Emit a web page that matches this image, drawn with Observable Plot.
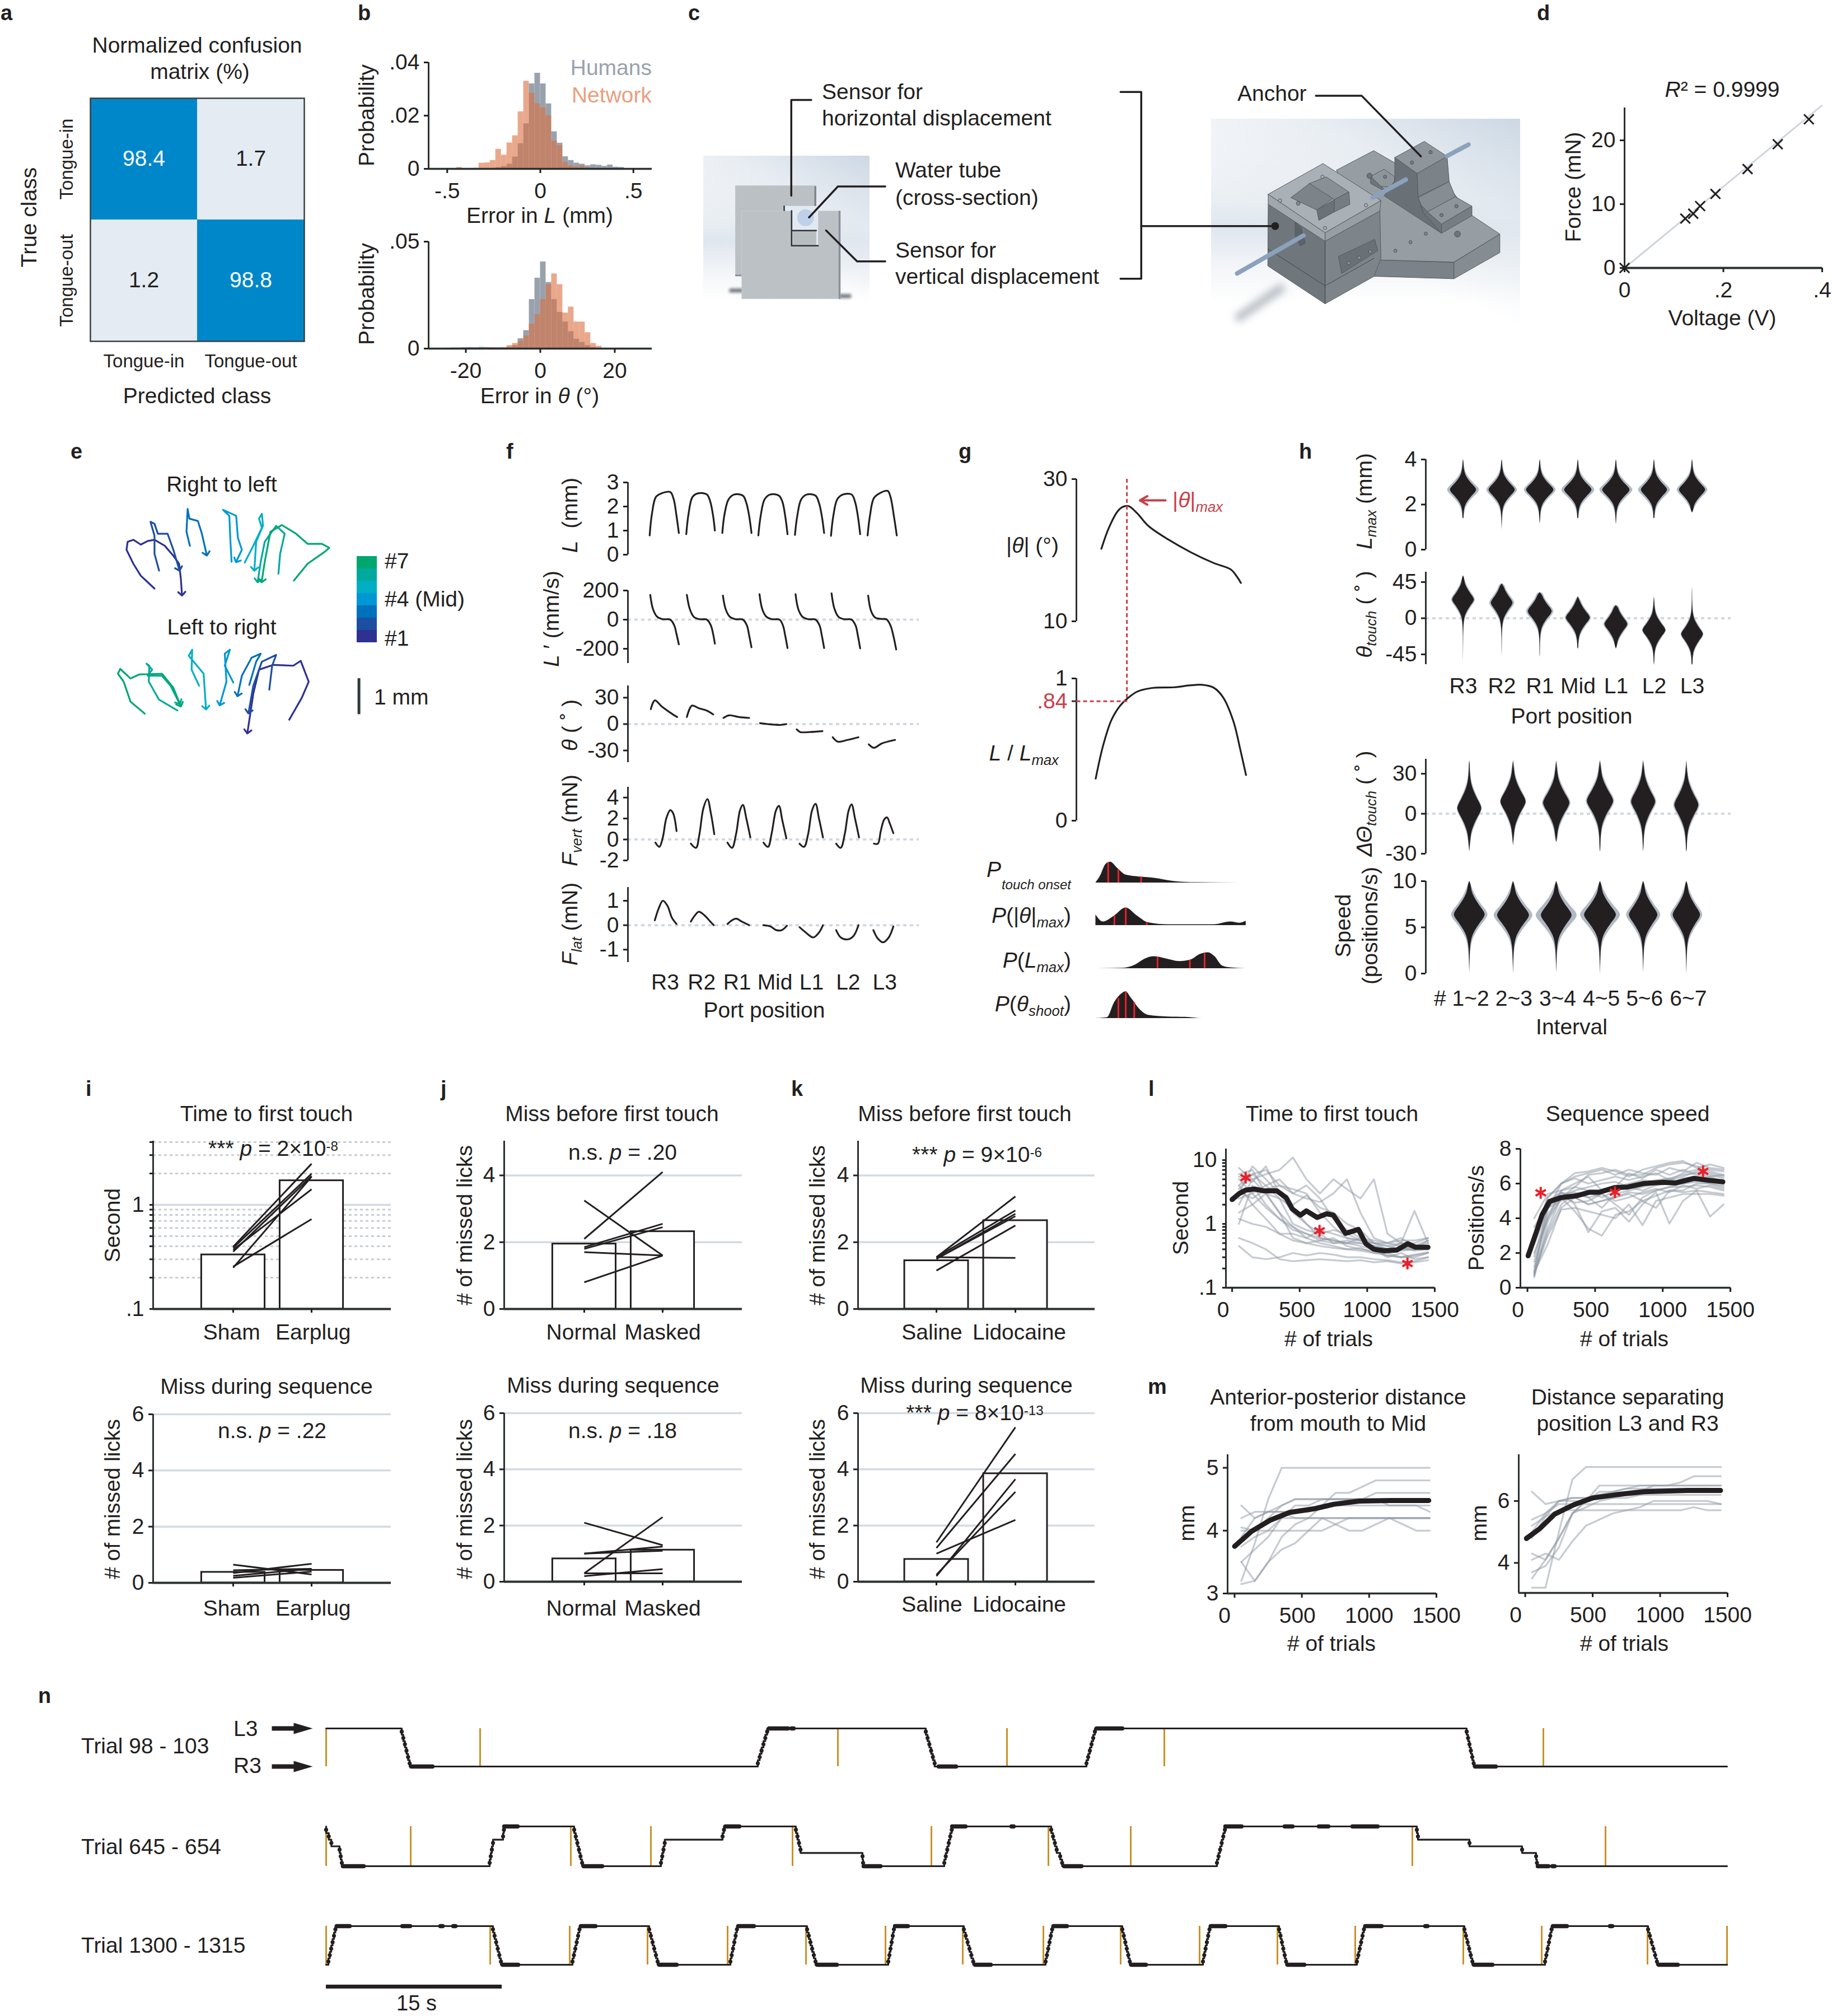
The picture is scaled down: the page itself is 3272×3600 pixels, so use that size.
<!DOCTYPE html>
<html><head><meta charset="utf-8">
<script src="https://cdn.jsdelivr.net/npm/d3@7"></script>
<script src="https://cdn.jsdelivr.net/npm/@observablehq/plot@0.6"></script>
<style>html,body{margin:0;padding:0;background:#fff}#root{position:relative;width:3272px;height:3600px;overflow:hidden;font-family:"Liberation Sans",Arial,sans-serif;color:#231F20}</style>
</head><body><div id="root"></div>
<script>
const ink="#231F20", font='"Liberation Sans",Arial,sans-serif', grid="#D3DAE2", greyLine="#8D97A3", redStar="#E8202A", redDash="#C8404A", ochre="#C8922A";
const root=document.getElementById("root");

/* ---------- a ---------- */
const confusionClasses=["Tongue-in","Tongue-out"];
const confusionValues=[["Tongue-in","Tongue-in",98.4],["Tongue-out","Tongue-in",1.7],["Tongue-in","Tongue-out",1.2],["Tongue-out","Tongue-out",98.8]];
/* ---------- b ---------- */
const lengthBinStart=-0.45, lengthBinWidth=0.03;
const humansLength=[0,0,0,0,0,0,.0002,.0005,.0009,.0018,.0045,.0095,.017,.032,.036,.032,.0245,.014,.0097,.0046,.0032,.0022,.0018,.0012,.0016,.0014,.001,.0015,.0007,.0006,.0002];
const networkLength=[.0006,.0002,.0002,.0003,.0022,.0023,.0032,.0074,.0052,.0098,.0125,.0215,.033,.0285,.0245,.023,.02,.0105,.0087,.0025,.0012,.0008,.0012,.0004,.0003,.0002,.0001,.0001,0,0,0];
const angleBinStart=-27, angleBinWidth=1.5;
const humansAngle=[.0002,.0003,.0004,.0004,.0005,.0006,.0005,.0007,.0006,.0005,.0005,.0004,.0008,.0015,.0047,.0085,.023,.033,.0406,.031,.023,.017,.0125,.008,.0045,.003,.0015,.0006,.0002,.0001,.0001,0,.0001,0,0,0];
const networkAngle=[0,0,0,0,.0001,.0001,.0002,.0002,.0004,.0005,.0004,.0006,.0015,.0025,.0035,.006,.0115,.016,.023,.03,.035,.03,.0167,.0195,.0125,.0125,.0075,.0025,.0012,.0003,.0002,.0002,.0003,.0002,.0001,.0001];
/* ---------- d ---------- */
const voltage=[0,.123,.139,.153,.184,.249,.31,.373];
const force=[0,7.74,8.5,9.7,11.6,15.5,19.4,23.3];
/* ---------- e ---------- */
const portColors=["#2E3192","#1C4FA1","#0071BC","#0097D7","#00AEC5","#00A99D","#00A76E"];
const rightToLeft=[
[[172,407],[148,375],[135,345],[123,310],[125,290],[135,285],[148,297],[160,288],[172,285],[190,300],[205,325],[215,345],[218,380],[220,420]],
[[180,362],[172,320],[172,275],[165,240],[172,245],[178,270],[195,270],[205,310],[215,358]],
[[234,300],[228,265],[230,208],[233,232],[248,238],[255,270],[263,320]],
[[307,340],[305,290],[303,225],[292,210],[315,225],[318,280],[325,310],[316,337]],
[[330,342],[345,300],[360,255],[355,232],[360,220],[362,250],[350,290],[347,358]],
[[389,370],[392,320],[400,270],[385,250],[365,290],[358,340],[353,387]],
[[416,387],[440,345],[470,315],[478,305],[465,295],[440,295],[420,270],[395,248],[375,265],[365,340],[360,387]]];
const leftToRight=[
[[408,735],[430,680],[442,640],[428,588],[415,600],[380,598],[355,610],[345,670],[335,765]],
[[373,660],[378,600],[385,573],[360,590],[345,650],[337,715]],
[[338,648],[350,590],[358,570],[342,580],[325,625],[318,672]],
[[310,642],[295,600],[304,560],[295,570],[298,640],[287,695]],
[[250,650],[237,610],[238,560],[232,575],[258,620],[262,705]],
[[212,712],[180,685],[162,640],[163,600],[158,595],[168,610],[160,625],[185,625],[200,650],[215,692]],
[[155,720],[130,690],[118,640],[108,620],[112,608],[130,632],[145,622],[185,620],[205,655],[217,698]]];
/* ---------- f ---------- */
const portNames=["R3","R2","R1","Mid","L1","L2","L3"];
const fTickX=[1066,1130,1192,1258,1322,1386,1450];
const tongueLength=[
[[1039,.8],[1043,1.7],[1050,2.4],[1060,2.55],[1075,2.6],[1081,2.3],[1086,1.6],[1090,.9]],
[[1103,.85],[1107,1.7],[1114,2.4],[1124,2.55],[1139,2.5],[1145,2.2],[1150,1.6],[1153,1]],
[[1166,.9],[1170,1.7],[1177,2.3],[1187,2.5],[1202,2.45],[1208,2.15],[1213,1.6],[1217,.9]],
[[1229,.8],[1233,1.6],[1240,2.3],[1250,2.5],[1265,2.45],[1271,2.2],[1276,1.6],[1280,.85]],
[[1293,.82],[1297,1.6],[1304,2.3],[1314,2.5],[1329,2.45],[1335,2.15],[1340,1.6],[1344,.9]],
[[1356,.78],[1360,1.6],[1367,2.3],[1377,2.5],[1392,2.5],[1398,2.2],[1403,1.6],[1407,.85]],
[[1420,.8],[1424,1.6],[1431,2.35],[1441,2.55],[1455,2.65],[1460,2.4],[1466,1.6],[1471,.8]]];
const tongueVelocity=[
[[1040,170],[1045,70],[1052,20],[1062,3],[1075,0],[1082,-40],[1086,-100],[1090,-170]],
[[1104,170],[1109,75],[1116,20],[1126,3],[1139,0],[1146,-40],[1150,-100],[1153,-165]],
[[1167,165],[1172,70],[1179,20],[1189,3],[1202,0],[1209,-40],[1213,-110],[1217,-190]],
[[1231,175],[1236,70],[1243,20],[1253,3],[1266,0],[1272,-40],[1276,-110],[1280,-195]],
[[1294,175],[1299,70],[1306,20],[1316,3],[1329,0],[1336,-40],[1340,-110],[1344,-195]],
[[1357,180],[1362,75],[1369,20],[1379,3],[1392,0],[1399,-40],[1403,-110],[1407,-197]],
[[1421,165],[1426,60],[1433,15],[1443,5],[1453,2],[1460,-40],[1465,-110],[1470,-205]]];
const tongueAngle=[
[[1041,17],[1048,27],[1060,20],[1075,13],[1087,8]],
[[1104,8],[1113,21],[1125,18],[1140,15],[1150,11]],
[[1168,7],[1178,10],[1195,8],[1213,7]],
[[1232,1],[1245,0],[1265,-1],[1278,0]],
[[1296,-6],[1302,-9],[1320,-9],[1341,-8]],
[[1359,-15],[1368,-20],[1385,-18],[1404,-15]],
[[1422,-23],[1431,-27],[1445,-22],[1468,-18]]];
const forceVertical=[
[[1049,-.3],[1056,-.7],[1062,.2],[1068,2],[1075,2.8],[1080,2.5],[1086,.8]],
[[1111,-.4],[1120,-.8],[1126,.5],[1133,3],[1140,3.85],[1146,2.5],[1152,.5]],
[[1175,-.3],[1183,-.8],[1190,.5],[1197,2.8],[1202,3.3],[1208,2],[1215,.2]],
[[1238,-.3],[1246,-.7],[1252,.5],[1260,2.8],[1265,3.2],[1271,1.8],[1278,.1]],
[[1301,-.4],[1309,-.7],[1316,.5],[1323,2.8],[1329,3.4],[1335,2],[1342,.2]],
[[1365,-.4],[1373,-.8],[1380,.5],[1387,2.8],[1392,3.35],[1398,2],[1405,.2]],
[[1431,-.4],[1438,-.4],[1443,.8],[1449,1.9],[1454,2.1],[1459,1.5],[1465,.6]]];
const forceLateral=[
[[1048,.2],[1055,.7],[1062,1],[1070,.8],[1078,.3],[1086,.05]],
[[1111,.15],[1118,.4],[1125,.55],[1135,.4],[1145,.15],[1151,0]],
[[1175,.05],[1183,.2],[1190,.27],[1200,.15],[1213,0]],
[[1238,0],[1250,-.05],[1260,-.2],[1270,-.2],[1279,-.02]],
[[1301,-.08],[1312,-.3],[1325,-.5],[1335,-.3],[1342,0]],
[[1365,-.2],[1373,-.5],[1385,-.58],[1395,-.45],[1404,0]],
[[1430,-.2],[1438,-.55],[1447,-.7],[1457,-.5],[1465,-.05]]];
/* ---------- g ---------- */
const angleTrace=[[282,20.2],[295,23.1],[310,25.4],[320,26.1],[330,26.2],[345,25.2],[365,23.4],[400,21.5],[440,19.7],[480,18.2],[510,17.3],[520,16.4],[528,15.4]];
const lengthTrace=[[272,.296],[285,.527],[300,.71],[315,.808],[327,.856],[345,.907],[370,.932],[410,.938],[440,.952],[460,.955],[480,.935],[497,.865],[515,.696],[527,.499],[537,.321]];
const densityTouch=[[272,0],[280,17],[290,47],[298,52],[310,37],[325,20],[350,15],[375,12],[410,4],[450,1],[528,0]];
const densityAngle=[[272,27],[285,9],[305,24],[325,44],[345,24],[365,7],[400,2],[480,2],[510,9],[525,6],[537,11]];
const densityLength=[[272,0],[320,1],[340,8],[360,25],[375,30],[395,25],[420,18],[440,22],[455,35],[470,40],[482,30],[495,7],[510,2],[537,0]];
const densityShoot=[[272,0],[292,2],[305,40],[318,62],[325,67],[335,50],[350,22],[365,8],[400,4],[430,3],[460,0],[537,0]];
const redTouch=[[294,50],[312,33],[352,14]], redAngle=[[305,24],[325,44],[362,8]], redLength=[[381,28],[438,21],[464,38]], redShoot=[[312,50],[325,67],[340,40]];
/* ---------- h ---------- */
const hPortX=[919,987,1054,1121,1188,1255,1322], hIntX=[930,1007,1083,1160,1236,1312];
const intervalNames=["# 1~2","2~3","3~4","4~5","5~6","6~7"], intervalTickX=[916,1008,1085,1162,1238,1315];
const lmaxCenter=[2.65,2.65,2.65,2.65,2.65,2.65,2.65], lmaxTop=[4,4,4,4,4,4,4], lmaxBottom=[1.38,.88,1.15,1.38,1.12,1.38,1.63];
const lmaxInner=[23,23,24,24,24,23,23], lmaxOuter=[28,27,28,29,29,28,27];
const thetaCenter=[23,19,8.5,.5,-7.5,-15,-20], thetaTop=[53,43,32,27,16,27,39], thetaBottom=[-53,-48,-48,-38,-38,-58,-58];
const thetaInner=[19,19,21,21,20,20,19], thetaOuter=[21,22,24,23,22,21,20];
const deltaCenter=[4,9,8,9.5,9,6.5], deltaTop=[40,40,40,40,40,40], deltaBottom=[-28.5,-24,-21.6,-28.5,-28.5,-28.5];
const deltaInner=[21,22,23,23,21,21], deltaOuter=[22,23,25,25,23,23];
const speedCenter=[6.38,6.3,6.3,6.35,6.35,6.35], speedTop=[10,10,10,10,10,10], speedBottom=[0,0,0,0,0,0];
const speedInner=[27,28,27,28,25,24], speedOuter=[32,34,36,35,30,28];
const violinProfile=[[0,1],[6,.92],[16,.66],[28,.38],[40,.18],[55,.07],[75,.025],[110,.008]];
/* ---------- i j k ---------- */
const logMinor=[.2,.3,.4,.5,.6,.7,.8,.9,2,3,4];
const iTimeBars=[.332,1.71], iTimePairs=[[.396,2.48],[.386,1.99],[.355,1.89],[.37,1.41],[.249,1.86],[.255,.73]];
const iMissBars=[.38,.45], iMissPairs=[[.65,.3],[.45,.5],[.18,.4],[.35,.68],[.25,.5]];
const jFirstBars=[1.95,2.32], jFirstPairs=[[2.1,4.1],[1.85,2.55],[1.8,2.45],[3.25,1.6],[1.7,1.6],[.8,1.6]];
const jSeqBars=[.82,1.13], jSeqPairs=[[2.1,1.3],[1,1.25],[1,1.1],[.3,2.3],[.2,.45],[.3,.3]];
const kFirstBars=[1.45,2.65], kFirstPairs=[[1.55,3.37],[1.55,2.95],[1.5,2.85],[1.15,2.5],[1.5,2.78],[1.55,1.53]];
const kSeqBars=[.8,3.85], kSeqPairs=[[1.4,5.5],[1.2,4.55],[1,2.2],[.2,3.65],[.25,3.2]];
/* ---------- l m ---------- */
const trialGrid=[50,150,250,350,450,550,650,750,850,950,1050,1150,1250,1350,1450];
const timeAnimals=[
[7.5,5,6,7,11,5,3,5,3.5,2.5,5,.7,.5,.5,.6],[4,6,7,4,3,2.5,2.2,3,5,1.5,.6,.5,.45,.4,.55],[3,8,5,3,2,2.8,1.8,1.5,1,.8,.5,.45,.5,1.6,.5],
[2,5,3,2.5,1,.8,.7,.8,.7,.55,.45,.35,.4,.4,.45],[1,4,2,1.2,.8,.7,.6,.55,.5,.45,.4,.3,.35,.28,.3],[1.5,2,3,1.5,.6,.5,.55,.6,.45,.4,.38,.32,.3,.3,.35],
[.6,.5,.4,.28,.26,.27,.28,.27,.26,.27,.25,.26,.24,.25,.27],[.45,.3,.28,.3,.35,.32,.35,.33,.3,.3,.28,.27,.25,.26,.3],[5,3,4,2.5,1.8,1,.7,.5,.5,.6,.5,.4,.5,.4,.4],
[3.5,6,4,5,3,4,2.5,1.2,.8,.6,.55,.5,.55,.55,.6],[2.5,3,1.8,1.2,.9,.6,.8,.7,.6,.55,.5,.5,.6,.45,.5],[4,2,1.2,.7,.7,.6,.5,.45,.4,.42,.35,.35,.3,.32,.35],
[6,7,3,1.5,.9,.7,.55,.5,.55,.5,.45,.4,.42,.38,.4],[3.2,2.5,3.5,4,3.5,3,1.5,.9,.6,.55,.5,.45,.4,.45,.55],[1.2,1,.9,.7,.55,.5,.45,.42,.4,.38,.35,.32,.3,.33,.36],[5.5,4.5,8,3,1.5,1,.6,.55,.5,.5,.45,.4,.38,.4,.45]];
const timeMean=[[0,2.41],[50,2.96],[100,3.38],[165,3.52],[235,3.29],[330,3.3],[400,2.58],[445,1.72],[505,1.37],[550,1.6],[630,1.26],[700,1.44],[750,1.37],[840,.71],[935,.82],[990,.49],[1050,.4],[1125,.38],[1220,.39],[1300,.49],[1360,.43],[1450,.43]];
const timeStars=[[100,5.3],[647,.78],[1298,.24]];
const speedAnimals=[
[.6,3.8,5.2,5.8,6.5,6.6,6.8,6.5,6.5,6.9,7.1,7.2,7,6.8,6.7],[1,4.5,6,6.4,6.6,6.8,6.5,6.8,6.6,6.5,6.9,6.7,7.2,6.9,6.8],[.7,5,5.5,4.8,3.2,4.4,4.6,3.8,4.8,5.5,3.7,5,5.6,4.1,4.8],
[.8,3,4.5,4.6,4.4,4.2,4,4.8,3.6,5,5.2,5.4,5.4,5.4,5.3],[2,4,5.2,4.4,3.4,3,4.2,4.4,5,5.3,5.6,5.5,5.6,5.5,5.4],[3.5,4.8,5.5,5.2,4.8,5,5.2,5.5,5.4,5.6,5.8,5.8,5.9,5.8,5.6],
[1.5,4,5.6,5.8,5.6,5.6,5.8,6,6.2,6.1,6.3,6.5,6.6,6.5,6.3],[.9,2.5,4.6,5.2,4.8,5,5.2,5.4,5,4.6,5.6,5.6,6,6,5.8],[3,5.2,6,6.3,6,6.2,6.4,6.2,6.4,6.6,6.2,6.4,6.7,6.6,6.4],
[1.2,4.2,5.4,5.5,5.2,5.4,4.8,4.2,5.2,5.6,5.8,6,6.2,6.4,6.1],[.7,3.4,5.2,5.6,5.8,6,6.1,5.8,6,6.2,6.3,6,6.1,6,5.9],[2.5,4.6,5,5.4,5.2,4.6,5.4,5.6,5.8,6,6.2,6.6,6.8,6.7,6.5],
[2.8,5.2,6,6.6,6.7,6.9,6.7,6.4,6.8,7,7.2,7.3,6.9,7.1,6.9],[1.8,4.6,5.3,4.9,5,5.4,5,5.2,5.5,5.7,5.5,5.9,5.7,5.9,5.7],[.9,3.2,4.8,5.4,5.5,5.2,5.6,5.8,5.6,5.9,6,6.3,6.4,6.2,6],[4,5.4,5.6,6,6.4,5.6,5.8,6.6,6.3,6.8,6.5,6.8,6.5,6.4,6.5]];
const speedMean=[[5,1.84],[61,3.1],[108,4.2],[164,4.97],[248,5.19],[366,5.3],[459,5.5],[530,5.5],[647,5.77],[741,5.8],[858,6],[1000,6.07],[1092,6.03],[1233,6.3],[1327,6.2],[1444,6.1]];
const speedStars=[[98,5.47],[647,5.5],[1298,6.7]];
const apAnimals=[
[3.2,3.8,4.5,5,5,5,5,5,5,5,5,5,5,5,5],[3.5,3.2,3.5,3.9,4.1,4.2,4.4,4.6,4.6,4.7,4.8,4.8,4.8,4.8,4.8],[4.4,4.2,4.3,4.4,4.5,4.5,4.5,4.5,4.5,4.5,4.6,4.6,4.6,4.6,4.6],
[4.2,4.3,4.3,4.3,4.3,4.3,4.4,4.4,4.4,4.4,4.4,4.4,4.4,4.4,4.4],[4,4,4,4,4,4,4,4.1,4.2,4.2,4.2,4.2,4.1,4,4],[3.15,3.2,3.5,3.7,3.8,4,4.2,4.2,4.2,4.2,4.2,4.2,4.2,4.2,4.2],
[3.75,3.9,4,4.2,4.2,4.2,4.2,4.2,4.2,4.2,4.2,4.2,4.2,4.2,4.2],[4.05,4,4.2,4.4,4.5,4.5,4.5,4.5,4.5,4.5,4.5,4.5,4.5,4.5,4.5],[3.5,3.7,3.9,4.2,4.4,4.4,4.5,4.5,4.5,4.5,4.5,4.4,4.4,4.4,4.3],[3.9,4.2,4.3,4.3,4.2,4.2,4.2,4.1,4,4,4.1,4.2,4.2,4.2,4.2]];
const apMean=[[0,3.75],[127,3.99],[268,4.17],[409,4.29],[597,4.35],[738,4.42],[926,4.47],[1161,4.48],[1443,4.48]];
const spanAnimals=[
[3.2,3.2,5,6.7,7.1,7.1,7.1,7.1,7.1,7.1,7.1,7.1,7.1,7.1,7.1],[3.5,4.1,4.8,5.6,5.8,6,6.1,6.2,6.3,6.5,6.5,6.6,6.8,6.8,6.8],[6.3,5.9,6,6.1,6.1,6.2,6.2,6.2,6.2,6.3,6.3,6.3,6.3,6.3,6.3],
[5.4,5.6,5.9,5.9,5.9,5.9,5.9,5.9,5.9,5.9,5.9,5.9,5.9,5.9,5.9],[5.2,5.5,5.7,5.7,5.7,5.7,5.7,5.7,5.7,5.7,5.7,5.7,5.8,5.7,5.7],[4.3,4.1,4.8,5.6,6,6.3,6.3,6.4,6.5,6.5,6.5,6.5,6.5,6.5,6.5],
[4.8,5.5,6,6.1,6.1,6.2,6.3,6.4,6.4,6.4,6.4,6.4,6.4,6.4,6.3],[4.1,4.3,4.1,4.7,5.2,5.4,5.6,5.7,5.8,6,6,6,6,6,5.9],[5,5.6,6,6,6,6.1,6.1,6.1,6.2,6.2,6.2,6.2,6.2,6.2,6.2],[3.7,3.9,4.5,5.6,6,6.5,6.5,6.5,6.5,6.5,6.5,6.5,6.5,6.5,6.5]];
const spanMean=[[9,4.79],[103,5.09],[220,5.58],[361,5.88],[502,6.1],[666,6.2],[877,6.3],[1205,6.34],[1448,6.34]];
/* ---------- n : time in video frames (about 21 per second) ---------- */
const traceStart=582, traceEnd=3084, framesFor15s=314;
const row1Moves=[[717,734,6,0],[1353,1373,0,6],[1653,1672,6,0],[1940,1958,0,6],[2619,2634,6,0]];
const row1Thick=[[734,772,0],[1373,1407,6],[1413,1417,6],[1676,1707,0],[1958,2004,6],[2634,2671,0]];
const row1Reward=[582,857,1496,1798,2079,2756];
const row2Moves=[[582,596,6,3],[606,612,3,0],[874,882,0,4],[898,901,4,6],[1025,1042,6,0],[1180,1189,0,4],[1290,1295,4,6],[1421,1432,6,2],[1540,1542,2,0],[1686,1702,0,6],[1877,1890,6,2],[1893,1900,2,0],[2173,2190,0,6],[2530,2534,6,4],[2624,2625,4,3],[2718,2719,3,2],[2743,2746,2,0]];
const row2Thick=[[612,649,0],[900,924,6],[1042,1075,0],[1295,1320,6],[1542,1572,0],[1700,1724,6],[1806,1810,6],[1900,1931,0],[2188,2217,6],[2294,2308,6],[2355,2366,6],[2368,2372,6],[2415,2460,6],[2746,2765,0],[2772,2776,0]];
const row2Reward=[582,733,1019,1162,1415,1663,1872,2019,2522,2867];
const row3Moves=[[586,601,0,6],[880,897,6,0],[1022,1037,0,6],[1159,1177,6,0],[1304,1318,0,6],[1441,1459,6,0],[1586,1598,0,6],[1721,1741,6,0],[1867,1881,0,6],[2004,2020,6,0],[2148,2162,0,6],[2284,2299,6,0],[2423,2438,0,6],[2615,2632,6,0],[2759,2773,0,6],[2943,2962,6,0]];
const row3Thick=[[601,624,6],[718,732,6],[786,790,6],[809,813,6],[897,925,0],[1037,1063,6],[1177,1208,0],[1318,1346,6],[1459,1494,0],[1598,1621,6],[1741,1769,0],[1881,1905,6],[2020,2046,0],[2162,2188,6],[2299,2329,0],[2438,2467,6],[2545,2549,6],[2632,2665,0],[2773,2798,6],[2875,2879,6],[2962,2996,0]];
const row3Reward=[582,875,1017,1156,1299,1439,1581,1719,1863,2001,2142,2281,2420,2613,2753,2942,3084];
/* ---------- c : illustration outlines ---------- */
const sidePolys=[
["#BBC0C5",[[188,182],[622,182],[622,292],[445,292],[445,318],[222,318],[222,668],[188,668]]],
["#7C8388",[[612,186],[622,186],[622,292],[612,292]]],
["#858C93",[[188,660],[222,660],[222,668],[188,668]]],
["#E3E9F1",[[450,295],[622,295],[632,318],[632,420],[495,420],[495,318],[450,318]]],
["#BCC1C6",[[222,318],[490,318],[490,505],[632,505],[632,318],[752,318],[752,790],[222,790]]],
["#8A9198",[[742,318],[752,318],[752,790],[742,790]]],
["#B8BDC2",[[495,424],[622,424],[622,500],[495,500]]]];
const sideInk=[[[490,318],[490,505],[632,505]],[[495,424],[622,424]],[[450,293],[450,316]]];
const sideShadows=[[[165,745],[222,745]],[[752,775],[800,775]]];
const cadFaces=[
["#969DA3",[[640,335],[820,232],[920,295],[1180,420],[1290,570],[1430,672],[1208,820],[822,808]]],
["#7B8288",[[822,808],[1208,822],[1208,908],[822,895]]],
["#858C92",[[1208,822],[1430,672],[1430,770],[1208,908]]],
["#6E757A",[[805,368],[855,420],[905,465],[805,405]]],
["#8E959B",[[805,368],[870,330],[922,370],[915,425],[855,420]]],
["#6A7176",[[922,268],[1030,352],[1035,480],[1060,560],[1148,668],[870,470],[922,390]]],
["#7B8288",[[1030,352],[1175,262],[1185,395],[1035,475]]],
["#8E959B",[[922,268],[1065,183],[1175,262],[1030,352]]],
["#868D93",[[1035,480],[1185,395],[1215,475],[1080,555],[1050,520]]],
["#6E757A",[[1050,520],[1080,555],[1148,620],[1148,668],[1060,560]]],
["#8E959B",[[1080,555],[1215,475],[1295,525],[1148,620]]],
["#767D83",[[1148,620],[1295,525],[1295,575],[1148,668]]],
["#70777C",[[310,515],[585,710],[585,1040],[308,840]]],
["#7E858A",[[585,710],[850,550],[855,800],[822,895],[585,1040]]],
["#A0A7AD",[[310,462],[585,665],[585,710],[310,515]]],
["#979EA4",[[585,665],[855,495],[850,550],[585,710]]],
["#A9B0B6",[[310,462],[575,300],[855,495],[585,665]]],
["#7D8489",[[420,480],[510,405],[630,480],[545,545]]],
["#889096",[[510,405],[590,370],[700,450],[630,490]]],
["#6B7277",[[545,545],[630,490],[630,555],[555,600]]],
["#757C82",[[630,490],[700,450],[705,515],[630,555]]],
["#5C6368",[[440,610],[470,640],[490,720],[465,735],[440,680]]],
["#6A7176",[[650,790],[825,700],[840,760],[665,880]]]];
const cadSeams=[[[308,750],[585,945],[822,800]],[[585,710],[585,1040]]];
const cadHoles=[[800,365,15,"#6E7479"],[1225,672,19,"#6E7479"],[925,760,5.5,"#7F868C"],[998,715,5.5,"#7F868C"],[1072,670,5.5,"#7F868C"],[1005,295,6,"#757C82"],[1095,240,6,"#757C82"],[875,370,6,"#757C82"],[1220,525,6,"#757C82"],[1148,572,6,"#757C82"],[700,825,6,"#8A9097"],[750,797,6,"#8A9097"],[803,765,6,"#8A9097"],[367,495,6,"#A9B0B6"],[572,370,6,"#A9B0B6"],[783,520,6,"#A9B0B6"],[585,640,6,"#A9B0B6"],[455,510,8,"#838A90"]];
const tubeSegments=[[[160,880],[480,680]],[[815,480],[975,385]],[[1175,260],[1278,200]]];
const cadShadow=[[170,1110],[370,960]];
const leaderLines=[[[188,367],[161,367],[161,720]],[[288,686],[224,686],[185,800]],[[288,962],[250,962],[208,848]],[[606,338],[634,338],[634,1026],[606,1026]],[[634,832],[815,832]],[[870,352],[932,352],[1012,575]]];

/* ---------- helpers ---------- */
function P(f,x,y,marks){
  const ml=190,mr=30,mt=40,mb=90;
  const plot=Plot.plot({width:Math.round(f.x1-f.x0)+ml+mr,height:Math.round(f.y1-f.y0)+mt+mb,marginLeft:ml,marginRight:mr,marginTop:mt,marginBottom:mb,
    x:{axis:null,...x},y:{axis:null,...y},
    style:{fontFamily:font,fontSize:"39px",color:ink,background:"transparent",overflow:"visible"},marks});
  plot.style.position="absolute";plot.style.left=(f.x0-ml)+"px";plot.style.top=(f.y0-mt)+"px";
  root.appendChild(plot);return plot;
}
function T(html,x,y,o={}){
  const {a="start",rot=0,size=39,color=ink,weight="normal"}=o;
  const d=document.createElement("div");
  d.style.cssText=`position:absolute;left:${x}px;top:${y}px;width:0;height:0;transform:rotate(${rot}deg);transform-origin:0 0`;
  const s=document.createElement("span");
  const tx=a==="start"?"0":a==="middle"?"-50%":"-100%";
  s.style.cssText=`position:absolute;left:0;top:${-0.8465*size}px;white-space:nowrap;line-height:1;font-size:${size}px;font-weight:${weight};color:${color};transform:translateX(${tx})`;
  s.innerHTML=html;d.appendChild(s);root.appendChild(d);
}
const sub=s=>`<span style="position:relative;top:.32em;font-size:.66em;font-style:italic">${s}</span>`;
const sup=s=>`<span style="position:relative;top:-.38em;font-size:.62em">${s}</span>`;
const fmt=d=>String(d).replace(/^(-?)0\./,"$1.");
const yAxis=(ticks,o={})=>Plot.axisY({ticks,tickFormat:fmt,tickSize:8,tickPadding:8,strokeWidth:3,label:null,...o});
const left=(v,o={})=>Plot.ruleX([v],{stroke:"#2B3030",strokeWidth:3,...o});
const base=(v,o={})=>Plot.ruleY([v],{stroke:"#2B3030",strokeWidth:4,...o});
const flat=rows=>rows.flatMap((r,i)=>r.map(([x,y])=>({x,y,k:i})));
const zeroDots=()=>Plot.ruleY([0],{stroke:"#D3D8DF",strokeWidth:4,strokeDasharray:"6,6"});
const blur=px=>(i,s,v,d,c,next)=>{const g=next(i,s,v,d,c);g.style.filter=`blur(${px}px)`;return g;};
const xyPath=(r,o)=>Plot.line(r,{x:d=>d[0],y:d=>d[1],...o});
const polyMark=(pts,fill,o={})=>Plot.line([...pts,pts[0]],{x:d=>d[0],y:d=>d[1],fill,stroke:"none",...o});

function bg(x,y,w,h,css){const d=document.createElement("div");d.style.cssText=`position:absolute;left:${x}px;top:${y}px;width:${w}px;height:${h}px;background:${css}`;root.appendChild(d);}
const photoBg="linear-gradient(205deg,rgba(205,216,228,1) 0%,rgba(225,232,239,.7) 28%,rgba(255,255,255,0) 58%),linear-gradient(180deg,#FCFCFD 0%,#E9EEF3 38%,#DFE6EE 50%,#F3F5F8 68%,#FFFFFF 85%)";
bg(1256,278,297,305,photoBg);
bg(2163,212,552,388,photoBg);

/* a */
P({x0:161,x1:543,y0:175,y1:609},{type:"band",domain:confusionClasses,padding:0},{type:"band",domain:confusionClasses,padding:0},[
  Plot.cell(confusionValues,{x:d=>d[0],y:d=>d[1],fill:d=>d[2]>50?"#0087CA":"#E4EBF2"}),
  Plot.frame({stroke:"#3A4040",strokeWidth:2.5}),
  Plot.text(confusionValues,{x:d=>d[0],y:d=>d[1],text:d=>String(d[2]),fill:d=>d[2]>50?"#FFFFFF":ink}),
  Plot.axisX({tickSize:0,tickPadding:23,label:null,fontSize:33}),
  Plot.axisY({tickSize:0,tickPadding:32,tickRotate:-90,label:null,textAnchor:"middle",fontSize:33})
]);
T("Normalized confusion",352,94,{a:"middle"});T("matrix (%)",357,141,{a:"middle"});
T("Predicted class",352,720,{a:"middle"});T("True class",65,388,{a:"middle",rot:-90});

/* b */
const histRows=(vals,start,w)=>vals.map((v,i)=>({a:start+i*w,b:start+(i+1)*w,v}));
const histMarks=(h,n,s,w)=>[
  Plot.rect(histRows(h,s,w),{x1:"a",x2:"b",y1:0,y2:"v",fill:"#99A2AC"}),
  Plot.rect(histRows(n,s,w),{x1:"a",x2:"b",y1:0,y2:"v",fill:"#DA6E3F",fillOpacity:.6})];
P({x0:765,x1:1164,y0:110.5,y1:300.5},{domain:[-.6,.6]},{domain:[0,.04]},[
  ...histMarks(humansLength,networkLength,lengthBinStart,lengthBinWidth),
  left(-.6),base(0,{strokeWidth:3.5}),yAxis([0,.02,.04]),
  Plot.axisX({ticks:[-.5,0,.5],tickFormat:fmt,tickSize:8,tickPadding:17,strokeWidth:3,label:null})
]);
P({x0:765,x1:1164,y0:430.5,y1:621.5},{domain:[-30,30]},{domain:[0,.05]},[
  ...histMarks(humansAngle,networkAngle,angleBinStart,angleBinWidth),
  left(-30),base(0,{strokeWidth:3.5}),yAxis([0,.05]),
  Plot.axisX({ticks:[-20,0,20],tickFormat:fmt,tickSize:8,tickPadding:17,strokeWidth:3,label:null})
]);
T("Humans",1164,134,{a:"end",color:"#99A2AC"});T("Network",1164,183,{a:"end",color:"#E8A080"});
T("Probability",668,206,{a:"middle",rot:-90});T("Probability",668,525,{a:"middle",rot:-90});
T("Error in <i>L</i> (mm)",964,398,{a:"middle"});T("Error in <i>θ</i> (°)",964,720,{a:"middle"});

/* c : left sensor view */
P({x0:1250,x1:1570,y0:270,y1:590},{domain:[0,960]},{domain:[0,960],reverse:true},[
  ...sideShadows.map(s=>xyPath(s,{stroke:"#6F767C",strokeWidth:7,render:blur(2.5)})),
  ...sidePolys.map(([c,p])=>polyMark(p,c)),
  Plot.dot([[565,355]],{x:d=>d[0],y:d=>d[1],r:15,fill:"#BFD1E8"}),
  ...sideInk.map(l=>xyPath(l,{stroke:"#2A3033",strokeWidth:2.5}))
]);
/* c : right assembly */
P({x0:2150,x1:2730,y0:190,y1:610},{domain:[0,1570]},{domain:[0,1241],reverse:true},[
  xyPath(cadShadow,{stroke:"#8F98A2",strokeWidth:16,strokeOpacity:.6,render:blur(7)}),
  ...cadFaces.map(([c,p])=>polyMark(p,c,{stroke:"#545A5F",strokeWidth:1})),
  ...cadSeams.map(s=>xyPath(s,{stroke:"#3F4549",strokeWidth:1})),
  Plot.dot(cadHoles,{x:d=>d[0],y:d=>d[1],r:d=>d[2],fill:d=>d[3],stroke:"#4C5256",strokeWidth:1}),
  ...tubeSegments.map(s=>xyPath(s,{stroke:"#8BA2BC",strokeWidth:8}))
]);
/* c : leader lines */
P({x0:1200,x1:3272,y0:0,y1:760},{domain:[0,1568]},{domain:[0,1568],reverse:true},[
  ...leaderLines.map(l=>xyPath(l,{stroke:ink,strokeWidth:3.5})),
  Plot.dot([[815,832]],{x:d=>d[0],y:d=>d[1],r:7,fill:ink})
]);
T("Sensor for",1468,177);T("horizontal displacement",1468,224);
T("Water tube",1599,317);T("(cross-section)",1599,366);
T("Sensor for",1599,460);T("vertical displacement",1599,507);T("Anchor",2210,180);

/* d */
const dRows=voltage.map((v,i)=>({v,f:force[i]}));
P({x0:2901,x1:3254,y0:191.5,y1:477.5},{domain:[0,.4]},{domain:[0,25.1]},[
  Plot.link([0],{x1:0,y1:0,x2:.4,y2:25.5,stroke:"#CFD5DC",strokeWidth:3}),
  left(0),base(0,{strokeWidth:4}),
  Plot.dot(dRows,{x:"v",y:"f",symbol:"times",r:8,stroke:ink,strokeWidth:3}),
  yAxis([0,10,20]),
  Plot.axisX({ticks:[0,.2,.4],tickFormat:fmt,tickSize:8,tickPadding:17,strokeWidth:3,label:null})
]);
T("<i>R</i>² = 0.9999",3076,173,{a:"middle"});T("Voltage (V)",3076,581,{a:"middle"});T("Force (mN)",2823,334,{a:"middle",rot:-90});

/* e */
const lineArrow=rows=>rows.map((r,i)=>xyPath(r,{stroke:portColors[i],strokeWidth:3.2,markerEnd:"arrow",strokeLinejoin:"round"}));
P({x0:100,x1:712,y0:760,y1:1331},{domain:[0,600]},{domain:[0,800],reverse:true},[
  ...lineArrow(rightToLeft),...lineArrow(leftToRight),
  Plot.ruleX([530],{y1:632,y2:722,stroke:"#2F3B3B",strokeWidth:5})
]);
P({x0:637,x1:673,y0:991,y1:1148},{domain:[0,1]},{type:"band",padding:0,domain:d3.range(7).reverse()},[
  Plot.rect(d3.range(7),{x1:0,x2:1,y:d=>d,fill:d=>portColors[d]})
]);
T("Right to left",396,878,{a:"middle"});T("Left to right",396,1133,{a:"middle"});
T("#7",687,1015);T("#4 (Mid)",687,1083);T("#1",687,1153);T("1 mm",668,1258);

/* f */
const fX={domain:[1001,1510]}, fFrame=(y0,y1)=>({x0:1121,x1:1641,y0,y1});
const traceLines=rows=>Plot.line(flat(rows),{x:"x",y:"y",z:"k",stroke:ink,strokeWidth:3.2,curve:"catmull-rom"});
P(fFrame(860.7,990),fX,{domain:[0,3]},[left(1001),yAxis([0,1,2,3]),traceLines(tongueLength)]);
P(fFrame(1054,1184),fX,{domain:[-300,200]},[zeroDots(),left(1001),yAxis([-200,0,200]),traceLines(tongueVelocity)]);
P(fFrame(1224,1361),fX,{domain:[-43.6,43.6]},[zeroDots(),left(1001),yAxis([-30,0,30]),traceLines(tongueAngle)]);
P(fFrame(1405,1535.7),fX,{domain:[-2,5]},[zeroDots(),left(1001),yAxis([-2,0,2,4]),traceLines(forceVertical)]);
P(fFrame(1583.6,1718),fX,{domain:[-1.52,1.55]},[zeroDots(),left(1001),yAxis([-1,0,1]),traceLines(forceLateral),
  Plot.axisX({ticks:fTickX,tickFormat:d=>portNames[fTickX.indexOf(d)],tickSize:0,tickPadding:21,label:null})]);
T("Port position",1365,1817,{a:"middle"});
T("<i>L</i>&nbsp; (mm)",1031,920,{a:"middle",rot:-90});
T("<i>L</i> ′ (mm/s)",998,1105,{a:"middle",rot:-90});
T("<i>θ</i> (&nbsp;˚&nbsp;)",1031,1295,{a:"middle",rot:-90});
T("<i>F</i>"+sub("vert")+" (mN)",1031,1465,{a:"middle",rot:-90});
T("<i>F</i>"+sub("lat")+" (mN)",1031,1650,{a:"middle",rot:-90});

/* g */
const gX={domain:[238,545]}, gFrame=(y0,y1)=>({x0:1922,x1:2233,y0,y1});
const xyLine=(r,o={})=>xyPath(r,{stroke:ink,strokeWidth:3.2,curve:"catmull-rom",...o});
P(gFrame(855,1108.6),gX,{domain:[10,30]},[
  left(238),yAxis([10,30]),xyLine(angleTrace),
  Plot.ruleX([327],{y1:30,y2:-1.27,stroke:redDash,strokeWidth:3,strokeDasharray:"7,5"}),
  Plot.arrow([0],{x1:395,x2:350,y1:27,y2:27,stroke:redDash,strokeWidth:4,headLength:16,bend:0})
]);
P(gFrame(1211.4,1465),gX,{domain:[0,1]},[
  left(238),yAxis([0,1]),Plot.axisY({ticks:[.84],tickFormat:fmt,tickSize:8,tickPadding:8,strokeWidth:3,label:null,stroke:"#2B3030",fill:redDash}),
  xyLine(lengthTrace),
  Plot.link([0],{x1:238,x2:327,y1:.84,y2:.84,stroke:redDash,strokeWidth:3,strokeDasharray:"7,5"})
]);
[[densityTouch,redTouch,1575.7],[densityAngle,redAngle,1652],[densityLength,redLength,1728.6],[densityShoot,redShoot,1817.8]].forEach(([den,red,yb])=>{
  P(gFrame(yb-50,yb),gX,{domain:[0,70]},[
    Plot.areaY(den,{x:d=>d[0],y:d=>d[1],fill:ink,curve:"monotone-x"}),
    Plot.ruleX(red,{x:d=>d[0],y1:0,y2:d=>d[1],stroke:redStar,strokeWidth:3})
  ]);
});
T("|<i>θ</i>|"+sub("max"),2094,906,{color:redDash});
T("|<i>θ</i>| (°)",1844,987,{a:"middle"});T("<i>L</i> / <i>L</i>"+sub("max"),1891,1358,{a:"end"});
T("<i>P</i>",1762,1566,{size:39});T("<i>touch onset</i>",1913,1588,{a:"end",size:24});
T("<i>P</i>(|<i>θ</i>|"+sub("max")+")",1913,1648,{a:"end"});
T("<i>P</i>(<i>L</i>"+sub("max")+")",1913,1728,{a:"end"});
T("<i>P</i>(<i>θ</i>"+sub("shoot")+")",1913,1806,{a:"end"});

/* h */
const hX={domain:[853,1390]}, hFrame=(y0,y1)=>({x0:2546,x1:3091,y0,y1});
function violinRows(cx,center,top,bottom,hw,perZoomPx,s,key){
  const up=violinProfile.map(([o,w])=>[center+o*s*perZoomPx,w]).filter(p=>p[0]<top).reverse();
  const dn=violinProfile.slice(1).map(([o,w])=>[center-o*s*perZoomPx,w]).filter(p=>p[0]>bottom);
  return [[top,0],...up,...dn,[bottom,0]].map(([y,w])=>({y,a:cx-w*hw,b:cx+w*hw,k:key}));
}
function violins(cxs,center,top,bottom,inner,outer,k,s){
  const grey=cxs.flatMap((c,i)=>violinRows(c,center[i],top[i],bottom[i],outer[i],k,s*1.12,i));
  const black=cxs.flatMap((c,i)=>violinRows(c,center[i],top[i],bottom[i],inner[i],k,s,i));
  return [Plot.areaX(grey,{y:"y",x1:"a",x2:"b",z:"k",fill:"#B0B9C3",curve:"catmull-rom"}),Plot.areaX(black,{y:"y",x1:"a",x2:"b",z:"k",fill:ink,curve:"catmull-rom"})];
}
P(hFrame(820,981.4),hX,{domain:[0,4]},[left(853),yAxis([0,2,4]),...violins(hPortX,lmaxCenter,lmaxTop,lmaxBottom,lmaxInner,lmaxOuter,2/113,.95)]);
P(hFrame(1021,1186.4),hX,{domain:[-57.5,57.5]},[zeroDots(),left(853),yAxis([-45,0,45]),...violins(hPortX,thetaCenter,thetaTop,thetaBottom,thetaInner,thetaOuter,45/85,.95),
  Plot.axisX({ticks:hPortX,tickFormat:d=>portNames[hPortX.indexOf(d)],tickSize:0,tickPadding:24,label:null})]);
P(hFrame(1355,1524),hX,{domain:[-30,41]},[zeroDots(),left(853),yAxis([-30,0,30]),...violins(hIntX,deltaCenter,deltaTop,deltaBottom,deltaInner,deltaOuter,.3,1.5)]);
P(hFrame(1573,1738),hX,{domain:[0,10]},[left(853),yAxis([0,5,10]),...violins(hIntX,speedCenter,speedTop,speedBottom,speedInner,speedOuter,10/232,1.4),
  Plot.axisX({ticks:intervalTickX,tickFormat:d=>intervalNames[intervalTickX.indexOf(d)],tickSize:0,tickPadding:30,label:null})]);
T("<i>L</i>"+sub("max")+"&nbsp;(mm)",2450,895,{a:"middle",rot:-90});
T("<i>θ</i>"+sub("touch")+"&nbsp;(&nbsp;˚&nbsp;)",2450,1097,{a:"middle",rot:-90});
T("<i>ΔΘ</i>"+sub("touch")+"&nbsp;(&nbsp;˚&nbsp;)",2450,1435,{a:"middle",rot:-90});
T("Speed",2412,1653,{a:"middle",rot:-90});T("(positions/s)",2460,1653,{a:"middle",rot:-90});
T("Port position",2807,1292,{a:"middle"});T("Interval",2807,1847,{a:"middle"});

/* i j k */
const bw=.404;
function pairPanel(f,yOpts,xDomain,names,nameX,bars,pairs,pre,axisTicks,pad){
  const barRows=bars.map((v,i)=>({a:i-bw,b:i+bw,v}));
  const low=yOpts.domain[0];
  return P(f,{domain:xDomain},yOpts,[
    ...pre,
    Plot.rect(barRows,{x1:"a",x2:"b",y1:low,y2:"v",fill:"#FFFFFF",stroke:ink,strokeWidth:3}),
    Plot.link(pairs,{x1:0,x2:1,y1:d=>d[0],y2:d=>d[1],stroke:ink,strokeWidth:3}),
    left(xDomain[0]),base(low),
    axisTicks,
    Plot.axisX({ticks:[0,1],tickFormat:()=>"",tickSize:7,strokeWidth:3,label:null}),
    Plot.axisX({ticks:nameX,tickFormat:d=>names[nameX.indexOf(d)],tickSize:0,tickPadding:pad+7,label:null})
  ]);
}
const solid=v=>Plot.ruleY(v,{stroke:grid,strokeWidth:3.5});
const iX=[-1.021,2.014], jX=[-1.021,2.014], kX=[-.993,2.007];
const iNames=["Sham","Earplug"], iNameX=[-.02,1.02], jNames=["Normal","Masked"], jNameX=[-.036,1], kNames=["Saline","Lidocaine"], kNameX=[-.057,1.05];
pairPanel({x0:273,x1:698,y0:2037,y1:2337},{type:"log",domain:[.1,4.1]},iX,iNames,iNameX,iTimeBars,iTimePairs,
  [Plot.ruleY(logMinor,{stroke:"#C8CDD3",strokeWidth:3,strokeDasharray:"5,5"}),solid([1])],
  Plot.axisY({ticks:[.1,...logMinor,1],tickFormat:d=>d===.1?".1":d===1?"1":"",tickSize:6,tickPadding:10,strokeWidth:3,label:null}),20);
pairPanel({x0:273,x1:698,y0:2525,y1:2826},{domain:[0,6]},iX,iNames,iNameX,iMissBars,iMissPairs,[solid([2,4,6])],yAxis([0,2,4,6]),24);
pairPanel({x0:900,x1:1325,y0:2037,y1:2337},{domain:[0,5.03]},jX,jNames,jNameX,jFirstBars,jFirstPairs,[solid([2,4])],yAxis([0,2,4]),20);
pairPanel({x0:900,x1:1325,y0:2523,y1:2824},{domain:[0,6]},jX,jNames,jNameX,jSeqBars,jSeqPairs,[solid([2,4,6])],yAxis([0,2,4,6]),26);
pairPanel({x0:1532,x1:1955,y0:2037,y1:2337},{domain:[0,5.03]},kX,kNames,kNameX,kFirstBars,kFirstPairs,[solid([2,4])],yAxis([0,2,4]),20);
pairPanel({x0:1532,x1:1955,y0:2523,y1:2824},{domain:[0,6]},kX,kNames,kNameX,kSeqBars,kSeqPairs,[solid([2,4,6])],yAxis([0,2,4,6]),19);
const pv=(p,v)=>`${p} <i>p</i> = ${v}`;
T("Time to first touch",476,2002,{a:"middle"});T(pv("***","2×10"+sup("-8")),488,2064,{a:"middle"});
T("Miss during sequence",476,2489,{a:"middle"});T(pv("n.s.",".22"),486,2568,{a:"middle"});
T("Miss before first touch",1093,2002,{a:"middle"});T(pv("n.s.",".20"),1112,2071,{a:"middle"});
T("Miss during sequence",1095,2487,{a:"middle"});T(pv("n.s.",".18"),1112,2568,{a:"middle"});
T("Miss before first touch",1723,2002,{a:"middle"});T(pv("***","9×10"+sup("-6")),1745,2075,{a:"middle"});
T("Miss during sequence",1726,2487,{a:"middle"});T(pv("***","8×10"+sup("-13")),1741,2536,{a:"middle"});
T("Second",214,2188,{a:"middle",rot:-90});
[843,1473].forEach(x=>T("# of missed licks",x,2188,{a:"middle",rot:-90}));
[214,843,1473].forEach(x=>T("# of missed licks",x,2677,{a:"middle",rot:-90}));

/* l m */
const animalRows=a=>a.flatMap((r,i)=>r.map((v,j)=>({x:trialGrid[j],y:v,k:i})));
const trialTicks=[0,500,1000,1500], trialNames=["0","500","1000","1500"];
function learning(f,xd,yOpts,animals,mean,stars,axisY,nameX){
  const low=yOpts.domain[0];
  P(f,{domain:xd},yOpts,[
    Plot.line(animalRows(animals),{x:"x",y:"y",z:"k",stroke:greyLine,strokeOpacity:.5,strokeWidth:3.2}),
    Plot.line(mean,{x:d=>d[0],y:d=>d[1],stroke:ink,strokeWidth:9,strokeLinejoin:"round"}),
    Plot.dot(stars,{x:d=>d[0],y:d=>d[1],symbol:"asterisk",r:10,stroke:redStar,strokeWidth:4}),
    left(xd[0]),base(low,{strokeWidth:3.5}),axisY,
    Plot.axisX({ticks:trialTicks,tickFormat:()=>"",tickSize:8,strokeWidth:3,label:null}),
    Plot.axisX({ticks:nameX,tickFormat:d=>trialNames[nameX.indexOf(d)],tickSize:0,tickPadding:25,label:null})
  ]);
}
learning({x0:2189,x1:2562,y0:2051,y1:2298.5},[-46,1500],{type:"log",domain:[.1,15]},timeAnimals,timeMean,timeStars,
  Plot.axisY({ticks:[.1,.2,.3,.4,.5,.6,.7,.8,.9,1,2,3,4,5,6,7,8,9,10],tickFormat:d=>d===.1?".1":d===1?"1":d===10?"10":"",tickSize:6,tickPadding:10,strokeWidth:3,label:null}),[-66,480,1000,1500]);
learning({x0:2715,x1:3090,y0:2051,y1:2298.5},[-52,1500],{domain:[0,8]},speedAnimals,speedMean,speedStars,yAxis([0,2,4,6,8]),[-70,470,1000,1500]);
learning({x0:2191.5,x1:2564,y0:2596.6,y1:2844.4},[-52,1500],{domain:[3,5.21]},apAnimals,apMean,[],yAxis([3,4,5]),[-75,467,1000,1500]);
learning({x0:2712,x1:3085,y0:2596.6,y1:2844},[-48,1500],{domain:[3.03,7.5]},spanAnimals,spanMean,[],yAxis([4,6]),[-70,467,1000,1500]);
T("Time to first touch",2379,2002,{a:"middle"});T("Sequence speed",2907,2002,{a:"middle"});
T("Second",2122,2175,{a:"middle",rot:-90});T("Positions/s",2650,2175,{a:"middle",rot:-90});
T("# of trials",2373,2404,{a:"middle"});T("# of trials",2901,2404,{a:"middle"});
T("Anterior-posterior distance",2390,2508,{a:"middle"});T("from mouth to Mid",2390,2555,{a:"middle"});
T("Distance separating",2907,2508,{a:"middle"});T("position L3 and R3",2907,2555,{a:"middle"});
T("mm",2133,2720,{a:"middle",rot:-90});T("mm",2655,2720,{a:"middle",rot:-90});
T("# of trials",2378,2948,{a:"middle"});T("# of trials",2901,2948,{a:"middle"});

/* n */
function expand(moves,startLevel){
  const pts=[{t:traceStart,l:startLevel}], dots=[];
  moves.forEach(([t0,t1,l0,l1])=>{
    const n=Math.abs(l1-l0), sign=Math.sign(l1-l0);
    for(let i=0;i<n;i++){const t=t0+(t1-t0)*i/n;const lv=l0+sign*(i+1);
      pts.push({t,l:lv});dots.push({t,l:l0+sign*(i+.5)});}
    pts.push({t:t1,l:l1});
  });
  const lastLevel=pts[pts.length-1].l;pts.push({t:traceEnd,l:lastLevel});
  return {pts,dots};
}
function seqRow(y0,y1,moves,startLevel,thick,reward,extra=[]){
  const {pts,dots}=expand(moves,startLevel);
  P({x0:582,x1:3084,y0,y1},{domain:[582,3084]},{domain:[0,6]},[
    ...extra,
    Plot.ruleX(reward,{y1:0,y2:6,stroke:ochre,strokeWidth:3}),
    Plot.line(pts,{x:"t",y:"l",curve:"step-after",stroke:ink,strokeWidth:3.2}),
    Plot.dot(dots,{x:"t",y:"l",r:3.6,fill:ink}),
    Plot.link(thick,{x1:d=>d[0],x2:d=>d[1],y1:d=>d[2],y2:d=>d[2],stroke:ink,strokeWidth:7.5,strokeLinecap:"round"})
  ]);
}
const arrowShape=[[485,.35],[524,.35],[524,.88],[558,0],[524,-.88],[524,-.35],[485,-.35]];
const portArrows=[6,0].map(l=>polyMark(arrowShape.map(([x,y])=>[x,y+l]),ink));
seqRow(3086,3154,row1Moves,6,row1Thick,row1Reward,portArrows);
seqRow(3261,3332,row2Moves,6,row2Thick,row2Reward);
seqRow(3438.5,3507,row3Moves,0,row3Thick,row3Reward);
P({x0:582,x1:3084,y0:3544,y1:3551},{domain:[582,3084]},{domain:[0,1]},[
  Plot.rect([0],{x1:traceStart,x2:traceStart+framesFor15s,y1:0,y2:1,fill:ink})
]);
T("L3",417,3100);T("R3",417,3166);
T("Trial 98 - 103",145,3131);T("Trial 645 - 654",145,3311);T("Trial 1300 - 1315",145,3487);T("15 s",744,3590,{a:"middle",size:38});

/* panel letters */
[["a",1,36],["b",639,36],["c",1229,36],["d",2745,36],["e",126,819],["f",904,819],["g",1712,819],["h",2320,819],["i",153,1957],["j",787,1957],["k",1413,1957],["l",2051,1957],["m",2050,2489],["n",68,3041]]
  .forEach(([s,x,y])=>T(s,x,y,{size:38,weight:"bold"}));
</script></body></html>
